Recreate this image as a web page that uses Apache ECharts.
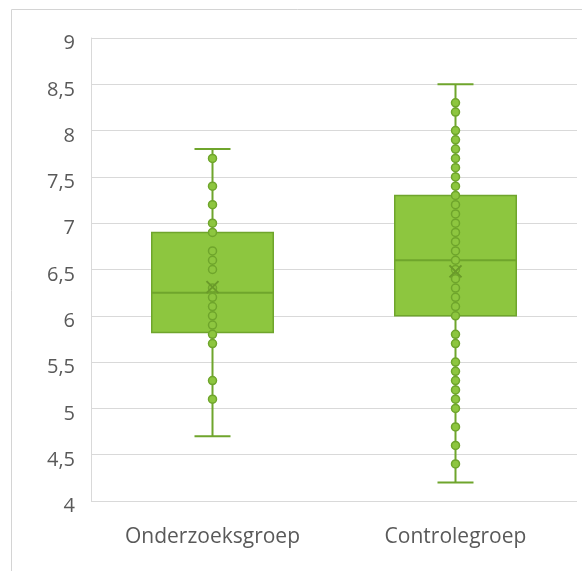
<!DOCTYPE html>
<html>
<head>
<meta charset="utf-8">
<script src="https://cdn.jsdelivr.net/npm/echarts@6/dist/echarts.min.js"></script>
<style>
  html, body { margin: 0; padding: 0; background: #fff; }
  #chart { width: 582px; height: 571px; }
</style>
</head>
<body>
<div id="chart"></div>
<script>
var categories = ['Onderzoeksgroep', 'Controlegroep'];
// [min, Q1, median, Q3, max]
var boxValues = [
    [4.7, 5.82, 6.25, 6.9, 7.8],
    [4.2, 6.0, 6.6, 7.3, 8.5]
];
var means = [6.31, 6.48];
var pointsOnderzoek = [7.7, 7.4, 7.2, 7.0, 6.9, 6.7, 6.6, 6.5, 6.3, 6.2, 6.1, 6.0, 5.9, 5.8, 5.7, 5.3, 5.1];
var pointsControle = [8.3, 8.2, 8.0, 7.9, 7.8, 7.7, 7.6, 7.5, 7.4, 7.3, 7.2, 7.1, 7.0, 6.9, 6.8, 6.7, 6.6,
    6.5, 6.4, 6.3, 6.2, 6.1, 6.0, 5.8, 5.7, 5.5, 5.4, 5.3, 5.2, 5.1, 5.0, 4.8, 4.6, 4.4];
var yTicks = ['4', '4,5', '5', '5,5', '6', '6,5', '7', '7,5', '8', '8,5', '9'];

(function () {
    var chartDom = document.getElementById('chart');
    var myChart = echarts.init(chartDom);
    var option;

    var fill = '#8dc63f';
    var edge = '#6fa52c';

    var boxData = boxValues.map(function (b, i) {
        return [i].concat(b);
    });
    var pointData = [];
    pointsOnderzoek.forEach(function (v) { pointData.push([0, v]); });
    pointsControle.forEach(function (v) { pointData.push([1, v]); });
    var meanData = means.map(function (m, i) { return [i, m]; });

    function renderBox(params, api) {
        var x = api.value(0);
        var pMin = api.coord([x, api.value(1)]);
        var pQ1 = api.coord([x, api.value(2)]);
        var pMed = api.coord([x, api.value(3)]);
        var pQ3 = api.coord([x, api.value(4)]);
        var pMax = api.coord([x, api.value(5)]);
        var band = api.size([1, 0])[0];
        var halfBox = band * 0.25;
        var halfCap = 18;
        var cx = pMed[0];
        var lineStyle = { stroke: edge, lineWidth: 2 };
        return {
            type: 'group',
            children: [
                { type: 'line', shape: { x1: cx, y1: pMax[1], x2: cx, y2: pMin[1] }, style: lineStyle },
                { type: 'line', shape: { x1: cx - halfCap, y1: pMax[1], x2: cx + halfCap, y2: pMax[1] }, style: lineStyle },
                { type: 'line', shape: { x1: cx - halfCap, y1: pMin[1], x2: cx + halfCap, y2: pMin[1] }, style: lineStyle },
                {
                    type: 'rect',
                    shape: { x: cx - halfBox, y: pQ3[1], width: halfBox * 2, height: pQ1[1] - pQ3[1] },
                    style: { fill: fill, stroke: edge, lineWidth: 1.5 }
                },
                { type: 'line', shape: { x1: cx - halfBox, y1: pMed[1], x2: cx + halfBox, y2: pMed[1] }, style: lineStyle }
            ]
        };
    }

    option = {
        animation: false,
        textStyle: { fontFamily: 'Open Sans' },
        graphic: [{
            type: 'rect',
            shape: { x: 11.5, y: 9.5, width: 600, height: 600 },
            style: { fill: 'none', stroke: '#d4d4d4', lineWidth: 1 },
            silent: true
        }],
        grid: { left: 91, right: 5, top: 38, bottom: 70 },
        xAxis: {
            type: 'category',
            data: categories,
            axisLine: { show: false },
            axisTick: { show: false },
            axisLabel: { color: '#595959', fontSize: 21, margin: 26 }
        },
        yAxis: {
            type: 'value',
            min: 4,
            max: 9,
            interval: 0.5,
            axisLine: { show: true, lineStyle: { color: '#d9d9d9' } },
            axisTick: { show: false },
            splitLine: { lineStyle: { color: '#d9d9d9', width: 1 } },
            axisLabel: {
                color: '#595959',
                margin: 16,
                formatter: function (v) {
                    return '{v|' + yTicks[Math.round((v - 4) / 0.5)] + '}';
                },
                rich: {
                    v: { color: '#595959', fontSize: 20, fontFamily: 'Open Sans', padding: [11, 0, 0, 0] }
                }
            }
        },
        series: [
            {
                type: 'custom',
                renderItem: renderBox,
                data: boxData,
                encode: { x: 0, y: [1, 2, 3, 4, 5] },
                z: 2
            },
            {
                type: 'scatter',
                data: pointData,
                symbol: 'circle',
                symbolSize: 8,
                itemStyle: { color: fill, borderColor: edge, borderWidth: 1.5, opacity: 1 },
                z: 3
            },
            {
                type: 'scatter',
                data: meanData,
                symbol: 'path://M0,0L10,10M10,0L0,10',
                symbolSize: 12,
                itemStyle: { color: 'none', borderColor: '#6a9a2a', borderWidth: 2, opacity: 1 },
                z: 4
            }
        ]
    };

    option && myChart.setOption(option);
})();
</script>
</body>
</html>
